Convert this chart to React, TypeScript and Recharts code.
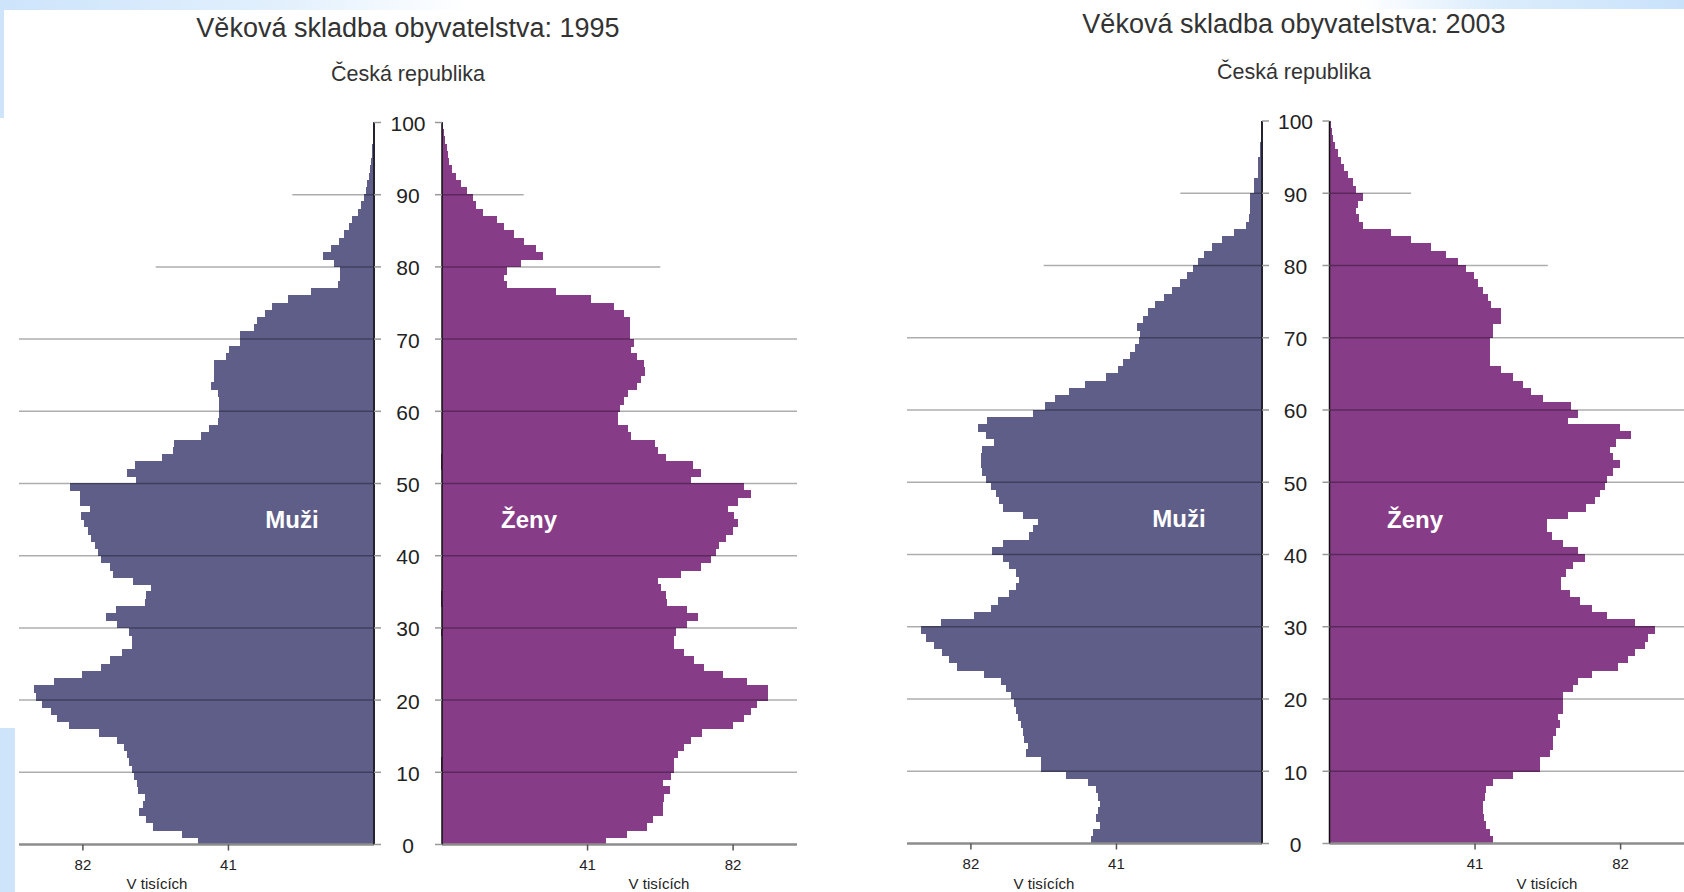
import React from 'react';
import { BarChart, Bar, XAxis, YAxis, ReferenceLine } from 'recharts';

// single years of age, 0..99
const ages = Array.from({ length: 100 }, (_, i) => i);
const ageTicks = [0, 10, 20, 30, 40, 50, 60, 70, 80, 90, 100];
const valueTicks = [41, 82];
const fullGrid = [10, 20, 30, 40, 50, 60, 70];

// thousands of persons by age
const men1995 = [
  49.5, 54, 62, 64, 66, 64.8, 64.3, 66.2, 66.7, 67.6,
  68, 69, 69.4, 70.3, 72.2, 77.3, 85.8, 89.1, 90.9, 93.3,
  95.2, 95.6, 90, 82, 76.9, 74.1, 70.8, 68, 68, 69,
  72.2, 75.4, 72.5, 64.5, 64, 62.6, 67.8, 73.4, 74.3, 76.7,
  77.5, 78.5, 79.5, 80.5, 81.5, 82.4, 80, 82.8, 82.8, 85.6,
  66.8, 69.5, 67.3, 59.7, 56.6, 56.1, 48.5, 46.4, 43.9, 43.4,
  43.4, 43.4, 43.9, 45.9, 45, 45, 45, 41.5, 40.6, 37.7,
  37.7, 33.8, 32.9, 30.7, 28.5, 24.1, 17.7, 10, 9.4, 9.4,
  11, 14.1, 11.9, 9.8, 8.2, 7, 6.1, 4.4, 3.5, 2.8,
  2.1, 1.7, 1.4, 1.1, 0.6, 0.4, 0.3, 0.2, 0.1, 0.1,
];
const women1995 = [
  46, 51.9, 57.7, 59.2, 62, 62, 62.3, 64.1, 62, 64.3,
  65.1, 65.1, 66.2, 68.1, 70, 73, 81.7, 85, 86.9, 88.7,
  91.7, 91.7, 85.9, 78.9, 73.7, 70.9, 68.1, 65.3, 65.3, 65.7,
  69, 72, 69, 63.2, 62.9, 61.5, 60.8, 67.1, 72.8, 75.6,
  77, 77.9, 79.8, 81.7, 83.1, 82.2, 80.3, 83.1, 86.9, 85,
  70, 72.8, 70.7, 62.9, 60.8, 59.8, 53, 52.3, 49.3, 49.3,
  50, 51.2, 52.3, 54.9, 55.9, 57, 56.8, 54.9, 53, 54,
  52.9, 52.9, 52.9, 51, 48.2, 41.8, 31.9, 18.1, 17.4, 18.1,
  22.1, 28.2, 26.3, 23, 20.2, 17.4, 15.3, 11.3, 9.4, 8.5,
  7, 5.2, 3.8, 2.8, 1.9, 1.5, 1.2, 0.6, 0.3, 0.2,
];
const men2003 = [
  47.9, 47.5, 45.6, 46.5, 46, 45.6, 46, 46.5, 48.9, 55,
  62.1, 62.1, 66.3, 65.8, 66.8, 67.3, 67.7, 68.7, 69.2, 69.6,
  70.6, 72, 73.4, 78.1, 85.7, 88, 89.9, 92.3, 94.6, 96,
  90.4, 80.9, 76.2, 74.3, 71, 69.2, 68.2, 69.2, 71, 72.9,
  75.8, 72.9, 65.4, 64.4, 63, 67.3, 72.9, 73.9, 74.8, 76.2,
  77.5, 78.8, 79.1, 79.1, 78.6, 75.3, 77.6, 80, 77.2, 64.4,
  61.1, 58.3, 54.1, 49.8, 43.7, 40.4, 39, 37.1, 35.7, 34.4,
  34.2, 35, 33.3, 31.9, 30, 27.6, 25.3, 22.9, 21, 19.2,
  18, 16.1, 14, 11.1, 7.8, 4.5, 3.6, 3.3, 3.3, 3.3,
  2, 2, 1, 1, 1, 0.5, 0.3, 0.2, 0.1, 0.1,
];
const women2003 = [
  45.9, 45, 44, 43.3, 43.1, 43.1, 43.6, 44, 45.9, 51.6,
  59.1, 59.1, 61.9, 62.7, 62.8, 63.8, 64.7, 64.3, 65.7, 65.7,
  65.7, 68.5, 69.9, 73.7, 81.2, 84, 85.9, 88.7, 89.7, 91.5,
  85.9, 77.9, 73.7, 70.4, 67.5, 65.2, 65.2, 66.6, 68.5, 71.8,
  69.9, 65.7, 62.4, 61, 61, 67.1, 72.2, 74.6, 76, 77.4,
  77.9, 79.8, 81.7, 79.8, 78.8, 80.7, 84.9, 81.7, 67.1, 69.9,
  68, 60, 56.7, 54.4, 51.6, 48.3, 45, 45, 45, 45,
  45.9, 45.9, 48.1, 48.1, 45.4, 44.5, 43.1, 41.7, 40.7, 38.4,
  36, 32.7, 28.5, 22.9, 17.2, 9.2, 8.3, 7.3, 7.8, 9.2,
  7.3, 6.4, 5, 4, 3.1, 2.2, 1.5, 0.9, 0.6, 0.3,
];

const MEN = '#5e5e88';
const WOMEN = '#863c86';
const FONT = '"Liberation Sans", Arial, sans-serif';
const PAGE_H = 892;
const PLOT_W = 355;

type HalfProps = {
  values: number[];
  men: boolean;
  plotLeft: number;
  plotTop: number;
  plotBottom: number;
  half: number;
};

function Half({ values, men, plotLeft, plotTop, plotBottom, half }: HalfProps) {
  const rows = ages.map((a, i) => ({ mid: a + 0.5, value: values[i] }));
  const xAxisH = 40;
  const lead = men ? 10 : 0;
  // men's axis is twice as wide so the age labels sit inside its svg
  const axisW = men ? half * 2 : half;
  const chartLeft = men ? plotLeft - lead : plotLeft - half;
  const width = lead + PLOT_W + axisW;
  const barSize = (plotBottom - plotTop) / 100 - 0.02;
  const color = men ? MEN : WOMEN;

  const ageTick = (p: any) => {
    if (!men) return <g />;
    return (
      <text
        x={p.x - 9 + half}
        y={p.y}
        dy="0.4em"
        textAnchor="middle"
        fontSize={21}
        fontFamily={FONT}
        fill="#222"
      >
        {p.payload.value}
      </text>
    );
  };

  return (
    <div style={{ position: 'absolute', left: chartLeft, top: 0 }}>
      <BarChart
        width={width}
        height={PAGE_H}
        data={rows}
        layout="vertical"
        margin={{ top: plotTop, right: 0, bottom: PAGE_H - plotBottom - xAxisH, left: lead }}
      >
        <XAxis
          type="number"
          dataKey="value"
          domain={[0, 100]}
          ticks={valueTicks}
          reversed={men}
          height={xAxisH}
          tickSize={6}
          tickMargin={9}
          axisLine={{ stroke: '#8c8c8c', strokeWidth: 2.5 }}
          tickLine={{ stroke: '#555', strokeWidth: 1.5 }}
          tick={{ fontSize: 15, fill: '#222', fontFamily: FONT }}
        />
        <YAxis
          type="number"
          dataKey="mid"
          domain={[0, 100]}
          ticks={ageTicks}
          interval={0}
          reversed
          orientation={men ? 'right' : 'left'}
          width={axisW}
          tickSize={7}
          tickMargin={2}
          axisLine={{ stroke: '#111', strokeWidth: 1.5 }}
          tickLine={{ stroke: '#999', strokeWidth: 1.5 }}
          tick={ageTick}
        />
        <Bar
          dataKey="value"
          fill={color}
          stroke={color}
          strokeWidth={1}
          shapeRendering="crispEdges"
          barSize={barSize}
          isAnimationActive={false}
        />
        {fullGrid.map((g) => (
          <ReferenceLine key={g} y={g} stroke="#000" strokeOpacity={0.32} strokeWidth={1.5} />
        ))}
        <ReferenceLine
          segment={[{ x: 0, y: 80 }, { x: 61.5, y: 80 }]}
          stroke="#000"
          strokeOpacity={0.32}
          strokeWidth={1.5}
        />
        <ReferenceLine
          segment={[{ x: 0, y: 90 }, { x: 23, y: 90 }]}
          stroke="#000"
          strokeOpacity={0.32}
          strokeWidth={1.5}
        />
      </BarChart>
    </div>
  );
}

const txt = (
  content: string,
  cx: number,
  cy: number,
  size: number,
  extra: React.CSSProperties = {}
) => (
  <div
    style={{
      position: 'absolute',
      left: cx,
      top: cy - size * 0.49,
      transform: 'translateX(-50%)',
      fontFamily: FONT,
      fontSize: size,
      lineHeight: 1,
      whiteSpace: 'nowrap',
      color: '#222',
      ...extra,
    }}
  >
    {content}
  </div>
);

export default function App() {
  return (
    <div
      style={{
        position: 'absolute',
        left: 0,
        top: 0,
        width: 1684,
        height: PAGE_H,
        background: '#fff',
        overflow: 'hidden',
      }}
    >
      <div style={{ position: 'absolute', left: 0, top: 0, width: 470, height: 10, background: 'linear-gradient(to right, #cde4fb 0%, #e2f0fd 60%, rgba(255,255,255,0) 100%)' }} />
      <div style={{ position: 'absolute', left: 0, top: 0, width: 4, height: 118, background: '#cde4fb' }} />
      <div style={{ position: 'absolute', left: 0, top: 728, width: 15, height: 164, background: '#cde4fb' }} />
      <div style={{ position: 'absolute', left: 1360, top: 0, width: 324, height: 9, background: 'linear-gradient(to right, rgba(255,255,255,0) 0%, #dcedfc 40%, #c9e2fb 100%)' }} />

      <Half values={men1995} men plotLeft={19} plotTop={122.5} plotBottom={844.5} half={34} />
      <Half values={women1995} men={false} plotLeft={442} plotTop={122.5} plotBottom={844.5} half={34} />
      <Half values={men2003} men plotLeft={907} plotTop={121} plotBottom={843.5} half={33.5} />
      <Half values={women2003} men={false} plotLeft={1329} plotTop={121} plotBottom={843.5} half={33.5} />

      {txt('Věková skladba obyvatelstva: 1995', 408, 28, 27, { color: '#333' })}
      {txt('Česká republika', 408, 75, 21.5, { color: '#333' })}
      {txt('Věková skladba obyvatelstva: 2003', 1294, 24.5, 27, { color: '#333' })}
      {txt('Česká republika', 1294, 73, 21.5, { color: '#333' })}

      {txt('V tisících', 157, 883, 15)}
      {txt('V tisících', 659, 883, 15)}
      {txt('V tisících', 1044, 883, 15)}
      {txt('V tisících', 1547, 883, 15)}

      {txt('Muži', 292, 520, 24, { color: '#fff', fontWeight: 'bold' })}
      {txt('Ženy', 529, 520, 24, { color: '#fff', fontWeight: 'bold' })}
      {txt('Muži', 1179, 519, 24, { color: '#fff', fontWeight: 'bold' })}
      {txt('Ženy', 1415, 520, 24, { color: '#fff', fontWeight: 'bold' })}
    </div>
  );
}
